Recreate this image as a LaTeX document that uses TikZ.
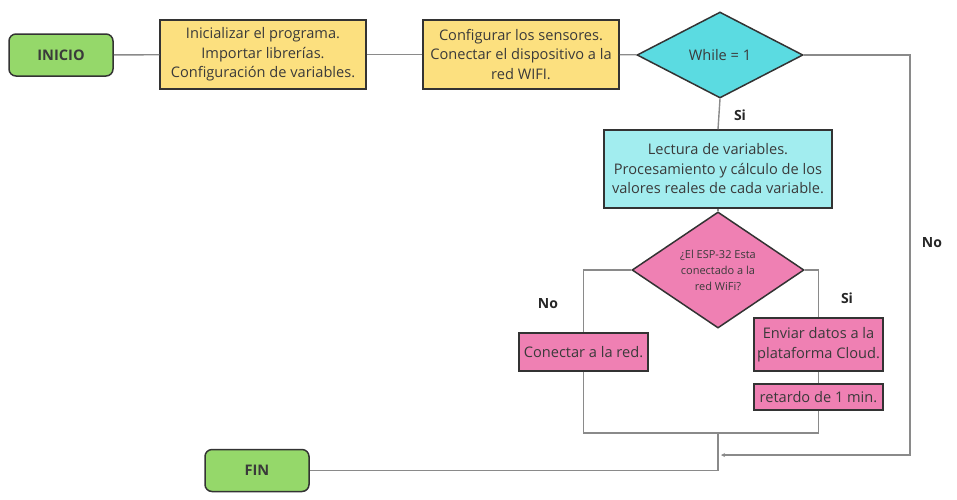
\documentclass[tikz,border=0pt]{standalone}
\usepackage{fontspec}
\setmainfont{Open Sans}
\usetikzlibrary{shapes.geometric,arrows.meta}
\definecolor{greenc}{HTML}{95D86A}
\definecolor{yellowc}{HTML}{FCE07F}
\definecolor{cyanc}{HTML}{5BDBE1}
\definecolor{lcyanc}{HTML}{A2EDEF}
\definecolor{pinkc}{HTML}{EF80B3}
\definecolor{edgec}{HTML}{333333}
\definecolor{linec}{HTML}{8A8A8A}
\definecolor{txtc}{HTML}{3A3A3A}
\begin{document}
\begin{tikzpicture}[x=1pt,y=-1pt,
  base/.style={draw=edgec,line width=1.5pt,text=txtc,align=center,inner sep=1pt,font=\fontsize{14.6}{19.5}\selectfont},
  term/.style={base,fill=greenc,rounded corners=7pt,minimum width=104pt,minimum height=42pt,font=\bfseries\fontsize{14.6}{16}\selectfont},
  proc/.style={base},
  dec/.style={base,diamond,inner sep=0pt},
  conn/.style={draw=linec,line width=1.4pt},
  lbl/.style={text=black!85,font=\bfseries\fontsize{14}{16}\selectfont}]
\useasboundingbox (0,0) rectangle (957,499);
\node[term] (inicio) at (61,55) {INICIO};
\node[proc,fill=yellowc,minimum width=206pt,minimum height=69pt] (b1) at (263,54.5)
  {Inicializar el programa.\\Importar librerías.\\Configuración de variables.};
\node[proc,fill=yellowc,minimum width=196pt,minimum height=69pt] (b2) at (521,54.5)
  {Configurar los sensores.\\Conectar el dispositivo a la\\red WIFI.};
\node[dec,fill=cyanc,minimum width=166pt,minimum height=86pt] (w1) at (720,55) {While = 1};
\node[proc,fill=lcyanc,minimum width=228pt,minimum height=78pt] (lect) at (718,169)
  {Lectura de variables.\\Procesamiento y cálculo de los\\valores reales de cada variable.};
\node[dec,fill=pinkc,minimum width=172pt,minimum height=93pt,font=\fontsize{11}{16}\selectfont] (q) at (718,270)
  {¿El ESP-32 Esta\\conectado a la\\red WiFi?};
\node[proc,fill=pinkc,minimum width=129pt,minimum height=38pt] (con) at (583.5,352) {Conectar a la red.};
\node[proc,fill=pinkc,minimum width=129pt,minimum height=53pt] (env) at (818.5,344.5)
  {Enviar datos a la\\plataforma Cloud.};
\node[proc,fill=pinkc,minimum width=129pt,minimum height=26pt] (ret) at (818.5,397) {retardo de 1 min.};
\node[term] (fin) at (257,470.5) {FIN};
\coordinate (mrg) at (718,433);
\coordinate (jn) at (721,455);
\coordinate (rc) at (910,55);
\draw[conn] (inicio) -- (b1);
\draw[conn] (b1) -- (b2);
\draw[conn] (b2) -- (w1);
\draw[conn] (w1.south) -- (lect.north);
\draw[conn,-{Stealth[length=4pt,width=4pt]}] (w1.east) -- (rc) |- (jn);
\draw[conn] (lect.south) -- (q.north);
\draw[conn] (q.west) -| (con.north);
\draw[conn] (q.east) -| (env.north);
\draw[conn] (env) -- (ret);
\draw[conn] (ret.south) |- (mrg) -| (con.south);
\draw[conn] (mrg) |- (fin.east);
\node[lbl] (l1) at (740,115) {Si};
\node[lbl] (l2) at (548,304) {No};
\node[lbl] (l3) at (847,298) {Si};
\node[lbl] (l4) at (932,243) {No};
\end{tikzpicture}
\end{document}
